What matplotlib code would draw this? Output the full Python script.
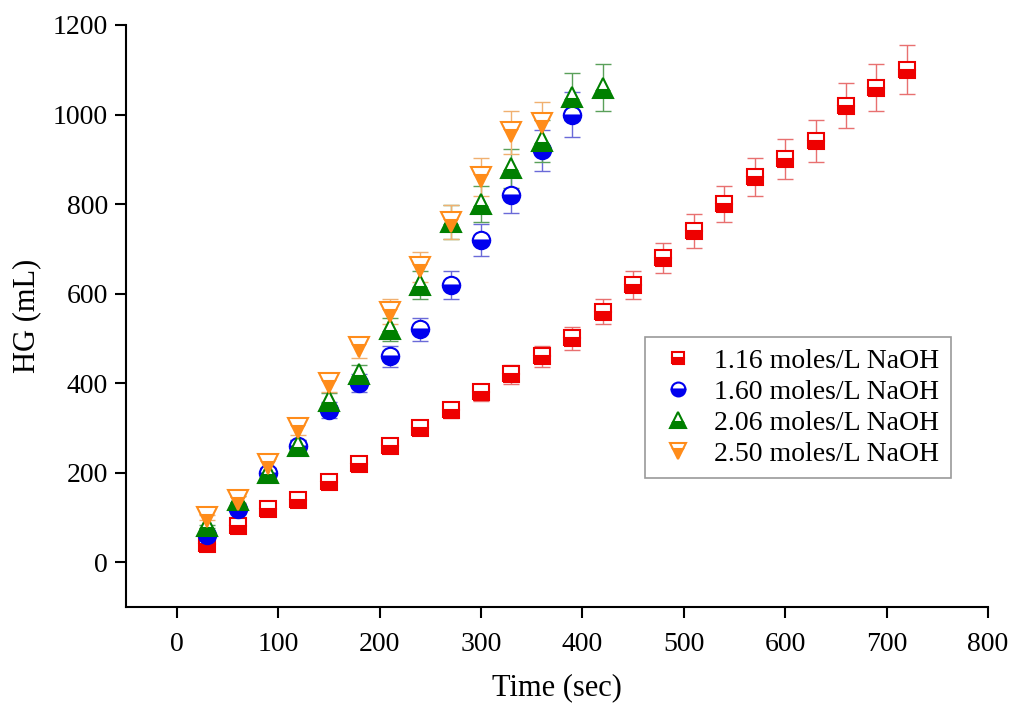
import matplotlib
matplotlib.use("Agg")
import matplotlib.pyplot as plt
import numpy as np

plt.rcParams['font.family'] = ['Liberation Serif', 'DejaVu Serif']

t1 = [30, 60, 90, 120, 150, 180, 210, 240, 270, 300, 330, 360, 390, 420, 450, 480, 510, 540, 570, 600, 630, 660, 690, 720]
hg1 = [40, 80, 120, 140, 180, 220, 260, 300, 340, 380, 420, 460, 500, 560, 620, 680, 740, 800, 860, 900, 940, 1020, 1060, 1100]
t2 = [30, 60, 90, 120, 150, 180, 210, 240, 270, 300, 330, 360, 390]
hg2 = [60, 120, 200, 260, 340, 400, 460, 520, 620, 720, 820, 920, 1000]
t3 = [30, 60, 90, 120, 150, 180, 210, 240, 270, 300, 330, 360, 390, 420]
hg3 = [80, 140, 200, 260, 360, 420, 520, 620, 760, 800, 880, 940, 1040, 1060]
t4 = [30, 60, 90, 120, 150, 180, 210, 240, 270, 300, 330, 360]
hg4 = [100, 140, 220, 300, 400, 480, 560, 660, 760, 860, 960, 980]
err_frac = 0.05

labels = ['1.16 moles/L NaOH', '1.60 moles/L NaOH', '2.06 moles/L NaOH', '2.50 moles/L NaOH']
colors = ['#ee0000', '#0000ee', '#008000', '#ff8c1a']
ecolors = ['#e87070', '#6a6ad8', '#5aa05a', '#f0b070']
markers = ['s', 'o', '^', 'v']
msizes = [11, 12.5, 14, 14]

fig = plt.figure(figsize=(10.11, 7.04), dpi=100)
ax = fig.add_axes([126/1011, 1-607/704, (988-126)/1011, (607-25)/704])

series = [(t1, hg1), (t2, hg2), (t3, hg3), (t4, hg4)]
for (t, h), lab, c, ec, m, ms in zip(series, labels, colors, ecolors, markers, msizes):
    h = np.array(h, dtype=float)
    ax.errorbar(t, h, yerr=h*err_frac, fmt='none', ecolor=ec, elinewidth=1.0,
                capsize=6, capthick=1.0, zorder=2)
    ax.plot(t, h, linestyle='none', marker=m, markersize=ms, color=c,
            markeredgecolor=c, markerfacecolor=c, fillstyle='bottom',
            markerfacecoloralt='white', markeredgewidth=1.5, label=lab, zorder=3)

ax.set_xlim(-50, 800)
ax.set_ylim(-100, 1200)
ax.set_xticks(np.arange(0, 801, 100))
ax.set_yticks(np.arange(0, 1201, 200))
for s in ['top', 'right']:
    ax.spines[s].set_visible(False)
for s in ['left', 'bottom']:
    ax.spines[s].set_linewidth(1.5)
ax.tick_params(axis='both', direction='out', length=8, width=1.5, labelsize=20, pad=5)
ax.tick_params(axis='x', pad=10)
ax.set_xlabel('Time (sec)', fontsize=22, labelpad=12)
ax.set_ylabel('HG (mL)', fontsize=22, labelpad=8)

leg = ax.legend(loc='upper left', bbox_to_anchor=((645-126)/862, 1-(337-25)/582),
                borderaxespad=0, fontsize=20, frameon=True, fancybox=False,
                edgecolor='#808080', handletextpad=0.5, borderpad=0.4,
                labelspacing=0.2, handlelength=1.6, numpoints=1, markerscale=0.8)
leg.get_frame().set_linewidth(1.2)

fig.savefig('out.png', dpi=100)
